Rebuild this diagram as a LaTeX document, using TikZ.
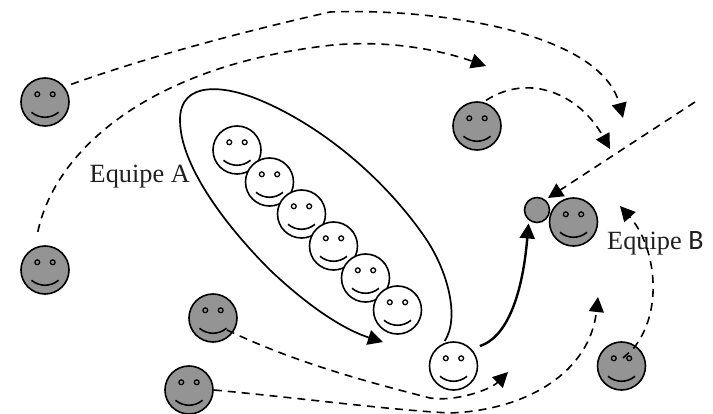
\documentclass[tikz,border=0pt]{standalone}
\usepackage{fontspec}
\setmainfont{Liberation Serif}
\newfontfamily\labelsans{Carlito}
\usetikzlibrary{arrows.meta}
\tikzset{
  facebase/.style={circle,draw=black,line width=1.6pt,minimum size=48pt,inner sep=0pt},
  grayface/.style={facebase,fill=black!42},
  whiteface/.style={facebase,fill=white},
  ballnode/.style={circle,draw=black,line width=1.6pt,fill=black!42,minimum size=25pt,inner sep=0pt},
  eyeline/.style={draw=black,line width=1.3pt},
  mouthline/.style={draw=black,line width=1.6pt},
  dashflow/.style={draw=black,line width=1.6pt,dash pattern=on 8pt off 6pt,-{Triangle[length=15pt,width=15pt]}},
  solidflow/.style={draw=black,line width=1.7pt,-{Triangle[length=15pt,width=15pt]}},
  boldflow/.style={draw=black,line width=2.4pt,-{Triangle[length=15pt,width=15pt]}},
  lab/.style={inner sep=0pt,anchor=base west,text=black!88!white,font=\fontsize{26.3}{28}\selectfont}
}
\newcommand{\smiley}[3]{%
  \node[#3] (#1) at (#2) {};
  \draw[eyeline] (#1.center) ++(-7.7,-7.7) circle (2.4);
  \draw[eyeline] (#1.center) ++(7.7,-7.7) circle (2.4);
  \draw[mouthline] (#1.center) ++(-13.5,10.3) .. controls +(8,6.6) and +(-8,6.6) .. +(27,0);
}
\begin{document}
\begin{tikzpicture}[x=1pt,y=-1pt]
\useasboundingbox (0,0) rectangle (713,414);
\smiley{ga}{45,102}{grayface}
\smiley{gb}{45,270}{grayface}
\smiley{gc}{477,126}{grayface}
\smiley{gd}{573.5,222}{grayface}
\smiley{ge}{213,318}{grayface}
\smiley{gf}{189,390}{grayface}
\smiley{gg}{621.5,366}{grayface}
\smiley{wa}{237,150}{whiteface}
\smiley{wb}{269.5,182}{whiteface}
\smiley{wc}{301.5,214}{whiteface}
\smiley{wd}{333.5,246}{whiteface}
\smiley{we}{365.5,278}{whiteface}
\smiley{wf}{397.5,310}{whiteface}
\smiley{wg}{453.5,366}{whiteface}
\node[ballnode] (ball) at (537,210) {};
\node[lab] (teamA) at (89.5,183) {Equipe A};
\node[lab] (teamB) at (607,249.5) {Equipe {\labelsans\fontsize{28}{30}\selectfont B}};
\coordinate (far) at (695,102);
\coordinate (t1) at (623,118);
\coordinate (t2) at (486,66);
\coordinate (t3) at (610,149);
\coordinate (t6) at (508,372);
\coordinate (t7) at (598,297);
\coordinate (t8) at (620,206);
\coordinate (t9) at (383,342);
\coordinate (s5) at (227,330);
\coordinate (s8) at (623,358);
% team A loop
\draw[solidflow,shorten <=3pt] (wg.115) .. controls (460,318) and (448,270) .. (424,236)
  .. controls (385,180) and (325,128) .. (262,101)
  .. controls (225,85) and (180,80) .. (180,120)
  .. controls (180,165) and (225,225) .. (270,270)
  .. controls (310,308) and (345,330) .. (t9);
% to ball
\draw[boldflow,shorten <=9pt,shorten >=3pt] (wg.44) .. controls (505,338) and (522,300) .. (ball.232);
% dashed flows
\draw[dashflow,shorten <=7pt] (ga.38) .. controls (150,56) and (250,30) .. (330,12)
  .. controls (430,8) and (600,30) .. (t1);
\draw[dashflow,shorten <=16pt] (gb.115) .. controls (55,150) and (150,65) .. (333,45)
  .. controls (390,40) and (440,50) .. (t2);
\draw[dashflow,shorten <=3pt] (gc.75) .. controls (530,72) and (580,95) .. (t3);
\draw[dashflow] (far) -- (548,198);
\draw[dashflow] (s5) .. controls (300,365) and (380,385) .. (430,398)
  .. controls (455,402) and (490,390) .. (t6);
\draw[dashflow] (gf.east) .. controls (300,398) and (390,410) .. (450,413)
  .. controls (530,410) and (590,370) .. (t7);
\draw[dashflow] (s8) -- (633,349) .. controls (665,310) and (655,245) .. (t8);
\end{tikzpicture}
\end{document}
